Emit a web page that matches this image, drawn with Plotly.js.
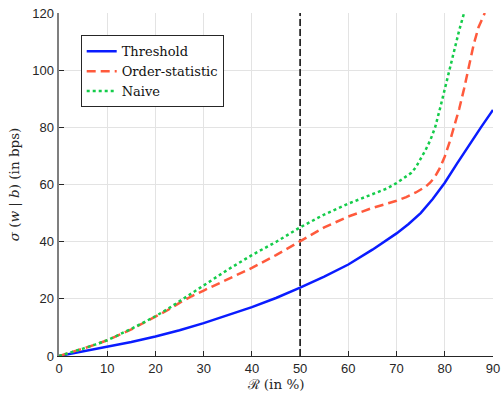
<!DOCTYPE html>
<html>
<head>
<meta charset="utf-8">
<script src="https://cdn.plot.ly/plotly-3.0.1.min.js"></script>
<style>
  html, body { margin: 0; padding: 0; background: #fff; }
  #chart { width: 501px; height: 396px; }
</style>
</head>
<body>
<div id="chart"></div>
<script>
// Threshold policy
const thresholdR = [0, 2.5, 5, 7.5, 10, 15, 20, 25, 30, 35, 40, 45, 50, 55, 60, 65, 70, 72.5, 75, 77.5, 80, 82.5, 85, 87.5, 90];
const thresholdSigma = [0, 0.8, 1.6, 2.3, 3.1, 4.9, 6.8, 9.0, 11.5, 14.2, 17.1, 20.3, 23.9, 27.8, 32.0, 37.2, 42.9, 46.2, 50.0, 54.9, 60.6, 67.2, 73.8, 80.0, 86.1];

// Order-statistic policy
const orderR = [0, 2.5, 5, 7.5, 10, 15, 20, 22.5, 25, 27.5, 30, 35, 40, 45, 50, 55, 60, 65, 70, 72, 74, 76, 77, 78, 79, 80, 81, 82, 83, 84, 85, 86, 87, 88.3];
const orderSigma = [0, 1.2, 2.6, 4.0, 5.5, 9.3, 13.6, 16.0, 18.6, 20.9, 22.9, 26.8, 30.8, 35.3, 40.3, 45.0, 48.8, 51.8, 54.3, 55.6, 57.2, 59.2, 60.7, 62.8, 65.8, 69.8, 74.8, 80.5, 86.5, 93.5, 101.5, 109.0, 115.0, 120.0];

// Naive policy
const naiveR = [0, 2.5, 5, 7.5, 10, 15, 20, 22.5, 25, 27.5, 30, 35, 40, 45, 50, 55, 60, 65, 68, 70, 72, 73, 74, 75, 76, 77, 78, 79, 80, 81, 82, 83, 84];
const naiveSigma = [0, 1.2, 2.6, 4.0, 5.5, 9.5, 13.9, 16.4, 19.2, 22.0, 24.8, 30.2, 35.3, 39.9, 45.0, 49.5, 53.3, 56.6, 58.6, 60.5, 62.7, 64.0, 66.0, 68.8, 72.0, 75.5, 80.0, 86.5, 93.5, 100.5, 107.5, 114.0, 120.0];

// Reference level marked by the vertical dashed line
const markerR = 50;
const yRange = [0, 120];
const xTicks = [0, 10, 20, 30, 40, 50, 60, 70, 80, 90];
const yTicks = [0, 20, 40, 60, 80, 100, 120];

const traces = [
  {
    x: [markerR, markerR], y: yRange, mode: 'lines', showlegend: false,
    line: { color: '#111111', width: 1.6, dash: '7px,3px' }, hoverinfo: 'skip'
  },
  {
    x: thresholdR, y: thresholdSigma, mode: 'lines', name: 'Threshold',
    line: { color: '#0a1cff', width: 2.5 }
  },
  {
    x: orderR, y: orderSigma, mode: 'lines', name: 'Order-statistic',
    line: { color: '#ff5a3c', width: 2.5, dash: '9px,5px' }
  },
  {
    x: naiveR, y: naiveSigma, mode: 'lines', name: 'Naive',
    line: { color: '#14cc4a', width: 2.5, dash: 'dot' }
  }
];

const tickFont = { family: 'Liberation Sans', size: 13, color: '#262626' };
const serif = 'DejaVu Serif';

const layout = {
  width: 501, height: 396,
  margin: { l: 59, r: 8, t: 13, b: 40 },
  paper_bgcolor: '#ffffff', plot_bgcolor: '#ffffff',
  showlegend: true,
  legend: {
    x: 0.05, y: 0.935, xanchor: 'left', yanchor: 'top',
    bgcolor: '#ffffff', bordercolor: '#262626', borderwidth: 1,
    font: { family: serif, size: 13, color: '#111111' },
    tracegroupgap: 0, itemwidth: 30
  },
  xaxis: {
    range: [0, 90], tickvals: xTicks, ticktext: xTicks.map(String),
    showgrid: true, gridcolor: '#e3e3e3', gridwidth: 1, zeroline: false,
    showline: true, linecolor: '#262626', linewidth: 1.2,
    ticks: 'inside', ticklen: 5, tickcolor: '#262626', tickwidth: 1,
    tickfont: tickFont,
    title: { text: 'ℛ (in %)', font: { family: serif, size: 13.5, color: '#262626' }, standoff: 3 }
  },
  yaxis: {
    range: yRange, tickvals: yTicks, ticktext: yTicks.map(String),
    showgrid: true, gridcolor: '#e3e3e3', gridwidth: 1, zeroline: false,
    showline: true, linecolor: '#7f7f7f', linewidth: 2.5,
    ticks: 'inside', ticklen: 5, tickcolor: '#262626', tickwidth: 1,
    tickfont: tickFont,
    title: { text: '<i>σ</i> (<i>w</i> | <i>b</i>) (in bps)', font: { family: serif, size: 13.5, color: '#262626' }, standoff: 10 }
  }
};

Plotly.newPlot('chart', traces, layout, { staticPlot: true, displayModeBar: false });
</script>
</body>
</html>
